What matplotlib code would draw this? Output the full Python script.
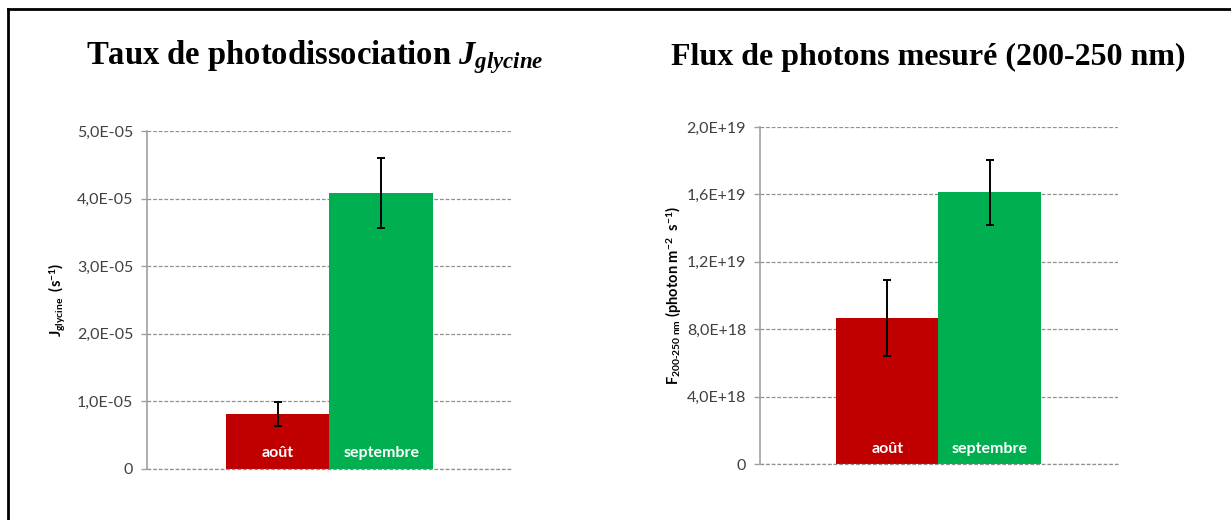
import matplotlib
matplotlib.use("Agg")
import matplotlib.pyplot as plt
from matplotlib.lines import Line2D

plt.rcParams['mathtext.fontset'] = 'custom'
plt.rcParams['mathtext.it'] = 'Liberation Serif:italic:bold'
plt.rcParams['mathtext.rm'] = 'Liberation Serif:bold'
plt.rcParams['mathtext.bf'] = 'Liberation Serif:bold'

# ---- data ----
categories = ['août', 'septembre']
colors = ['#C00000', '#00B050']

j_values = [8.1e-6, 4.08e-5]
j_errors = [1.8e-6, 5.2e-6]
j_ticks = [0, 1e-5, 2e-5, 3e-5, 4e-5, 5e-5]
j_ticklabels = ['0', '1,0E-05', '2,0E-05', '3,0E-05', '4,0E-05', '5,0E-05']

f_values = [8.66e18, 1.614e19]
f_errors = [2.25e18, 1.93e18]
f_ticks = [0, 4e18, 8e18, 1.2e19, 1.6e19, 2.0e19]
f_ticklabels = ['0', '4,0E+18', '8,0E+18', '1,2E+19', '1,6E+19', '2,0E+19']

W, H = 1231, 520
fig = plt.figure(figsize=(W / 100, H / 100), dpi=100)

# frame border
fig.add_artist(Line2D([7.5 / W, 7.5 / W], [0, 1 - 9 / H], color='black', lw=2, transform=fig.transFigure))
fig.add_artist(Line2D([7.5 / W, 1], [1 - 9 / H, 1 - 9 / H], color='black', lw=2, transform=fig.transFigure))

tick_font = dict(family=['Lato', 'DejaVu Sans'], size=11.5, color='#404040')


def make_panel(rect, values, errors, ticks, ticklabels, xlim, ylabel, label_y, ylabel_x):
    ax = fig.add_axes(rect)
    x = list(range(len(categories)))
    ax.bar(x, values, width=1.0, color=colors, zorder=2)
    ax.errorbar(x, values, yerr=errors, fmt='none', ecolor='black', elinewidth=1.4,
                capsize=3, capthick=1.4, zorder=3)
    ax.set_xlim(*xlim)
    ax.set_ylim(ticks[0], ticks[-1])
    ax.set_yticks(ticks)
    ax.set_yticklabels(ticklabels, **tick_font)
    ax.set_xticks([])
    for s in ['top', 'right', 'bottom']:
        ax.spines[s].set_visible(False)
    ax.spines['left'].set_color('#A0A0A0')
    ax.spines['left'].set_linewidth(1.2)
    ax.tick_params(axis='y', length=4, color='#A0A0A0', width=1, pad=6)
    ax.yaxis.grid(True, linestyle=(0, (3, 1.5)), color='#909090', lw=0.9, zorder=0)
    ax.axhline(ticks[0], linestyle=(0, (3, 1.5)), color='#909090', lw=0.9, zorder=5, clip_on=False)
    ax.set_axisbelow(True)
    for xi, cat in zip(x, categories):
        ax.text(xi, label_y, cat, ha='center', va='center', color='white',
                fontweight='bold', family=['Lato', 'DejaVu Sans'], fontsize=11.5,
                transform=ax.get_xaxis_transform(), zorder=4)
    ax.set_ylabel(ylabel, fontsize=10.5, fontweight='bold', family=['Lato', 'DejaVu Sans'],
                  color='black')
    ax.yaxis.set_label_coords(ylabel_x, 0.5)
    return ax


axL = make_panel([147 / W, 1 - 469 / H, 364 / W, 338 / H], j_values, j_errors, j_ticks,
                 j_ticklabels, (-1.263, 2.254),
                 r'J$_{\mathregular{glycine}}$  (s$^{\mathregular{-1}}$)', 0.048, -79 / 364)
axR = make_panel([760 / W, 1 - 464 / H, 358 / W, 337 / H], f_values, f_errors, f_ticks,
                 f_ticklabels, (-1.241, 2.251),
                 r'F$_{\mathregular{200\text{-}250\ nm}}$ (photon m$^{\mathregular{-2}}$  s$^{\mathregular{-1}}$)',
                 0.045, -77 / 358)

fig.text(315 / W, 1 - 57 / H, r'Taux de photodissociation $J_{glycine}$', ha='center', va='center',
         family='Liberation Serif', fontweight='bold', fontsize=23.5)
fig.text(928 / W, 1 - 57 / H, 'Flux de photons mesuré (200-250 nm)', ha='center', va='center',
         family='Liberation Serif', fontweight='bold', fontsize=23)

fig.savefig('out.png', dpi=100, facecolor='white')
